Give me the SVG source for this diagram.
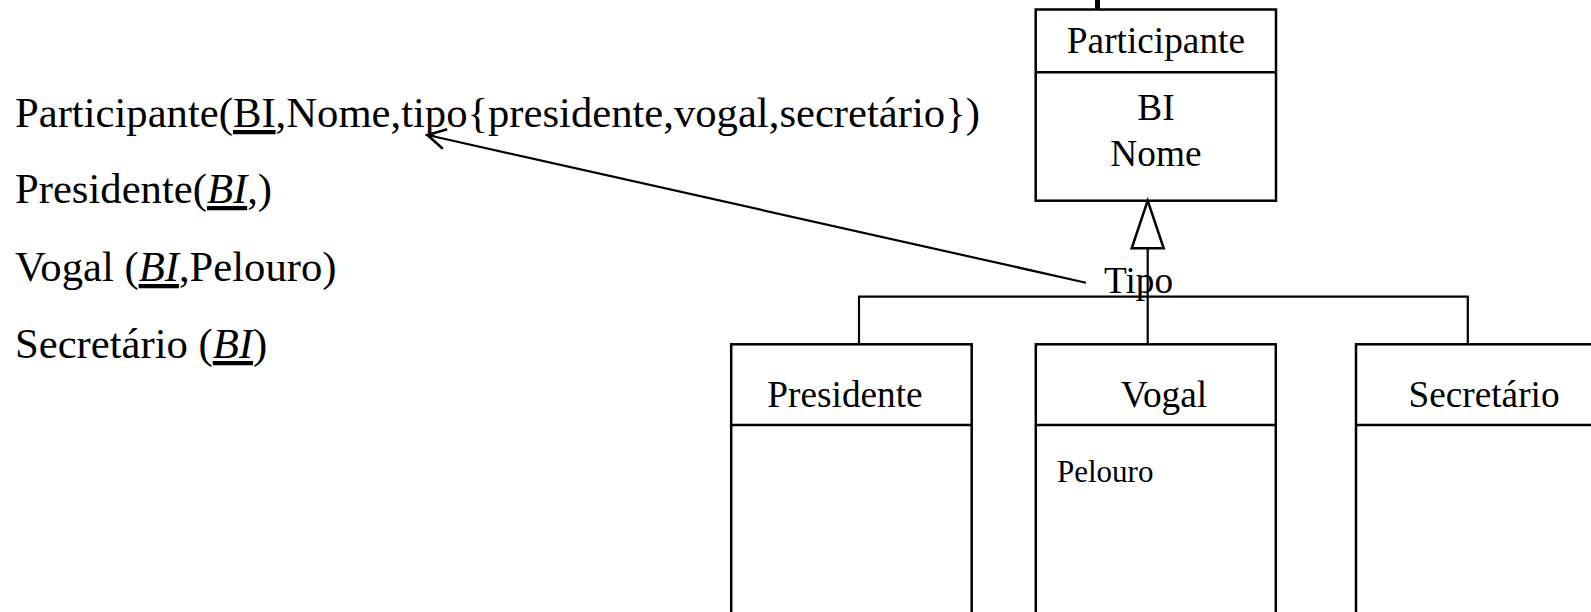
<svg xmlns="http://www.w3.org/2000/svg" width="1591" height="612" viewBox="0 0 1591 612">
  <style>
    text { font-family: "Liberation Serif", "Times New Roman", serif; fill: #000; }
    .rel { font-size: 42.67px; }
    .lbl { font-size: 37.3px; }
    .attr { font-size: 31px; }
    .key { text-decoration: underline; }
    .box { fill: #fff; stroke: #000; stroke-width: 2.5; }
    .sep { stroke: #000; stroke-width: 2.5; fill: none; }
    .wire { stroke: #000; stroke-width: 2.2; fill: none; }
  </style>
  <defs>
    <marker id="openArrow" markerUnits="userSpaceOnUse" markerWidth="24" markerHeight="24" viewBox="-22 -12 24 24" refX="0" refY="0" orient="auto-start-reverse">
      <path d="M -18 -10 L 0 0 L -18 10" fill="none" stroke="#000" stroke-width="2.5"/>
    </marker>
  </defs>
  <rect width="1591" height="612" fill="#fff"/>

  <!-- relational schema -->
  <g id="schema">
    <text class="rel" x="15" y="127">Participante(<tspan class="key">BI</tspan>,Nome,tipo{presidente,vogal,secretário})</text>
    <text class="rel" x="15" y="203">Presidente(<tspan class="key" font-style="italic">BI</tspan>,)</text>
    <text class="rel" x="15" y="281">Vogal (<tspan class="key" font-style="italic">BI</tspan>,Pelouro)</text>
    <text class="rel" x="15" y="358">Secretário (<tspan class="key" font-style="italic">BI</tspan>)</text>
  </g>

  <!-- small fragment above the superclass -->
  <rect x="1095" y="0" width="5" height="9" fill="#000"/>

  <!-- superclass -->
  <g id="participante">
    <rect class="box" x="1035.7" y="9.5" width="240.3" height="191.2"/>
    <line class="sep" x1="1035.7" y1="72.3" x2="1276" y2="72.3"/>
    <text class="lbl" x="1155.9" y="53" text-anchor="middle">Participante</text>
    <text class="lbl" x="1155.9" y="119.5" text-anchor="middle">BI</text>
    <text class="lbl" x="1155.9" y="166" text-anchor="middle">Nome</text>
  </g>

  <!-- subclasses -->
  <g id="presidente">
    <rect class="box" x="731.2" y="344.3" width="240.5" height="280"/>
    <line class="sep" x1="731.2" y1="425" x2="971.7" y2="425"/>
    <text class="lbl" x="845" y="406.7" text-anchor="middle">Presidente</text>
  </g>
  <g id="vogal">
    <rect class="box" x="1035.8" y="344.3" width="240" height="280"/>
    <line class="sep" x1="1035.8" y1="425" x2="1275.8" y2="425"/>
    <text class="lbl" x="1164" y="406.7" text-anchor="middle">Vogal</text>
    <text class="attr" x="1057" y="481.5">Pelouro</text>
  </g>
  <g id="secretario">
    <rect class="box" x="1356" y="344.3" width="245" height="280"/>
    <line class="sep" x1="1356" y1="425" x2="1601" y2="425"/>
    <text class="lbl" x="1484" y="406.7" text-anchor="middle">Secretário</text>
  </g>

  <!-- generalisation connectors -->
  <g id="connectors">
    <polyline class="wire" points="859,344.3 859,296.7 1467.8,296.7 1467.8,344.3"/>
    <line class="wire" x1="1147.7" y1="248.3" x2="1147.7" y2="344.3"/>
    <polygon points="1147.7,200.7 1131.7,248.3 1163.7,248.3" fill="#fff" stroke="#000" stroke-width="2.5" stroke-linejoin="miter"/>
    <line class="wire" x1="1086" y1="282.7" x2="427.4" y2="135" stroke-width="2.5" marker-end="url(#openArrow)"/>
    <text class="lbl" x="1104" y="293.3" font-size="36px">Tipo</text>
  </g>
</svg>
